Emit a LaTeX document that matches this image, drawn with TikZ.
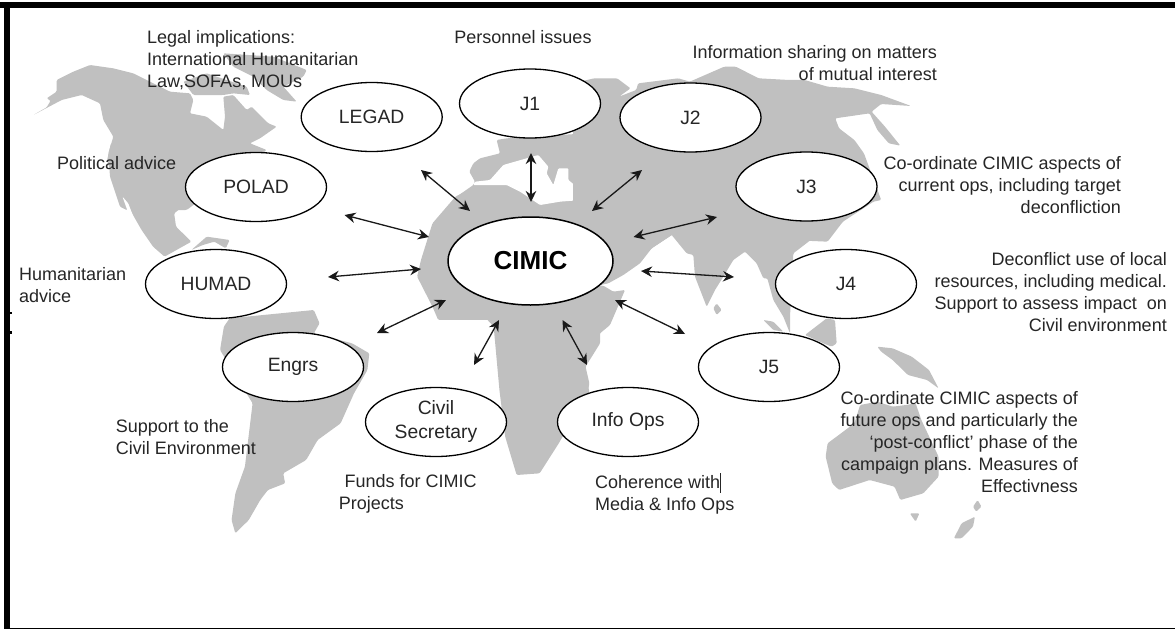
\documentclass[tikz,border=0pt]{standalone}
\usepackage{fontspec}
\setmainfont{Liberation Sans}
\usetikzlibrary{shapes.geometric,arrows.meta}
\definecolor{landgray}{HTML}{C0C0C0}
\definecolor{inkgray}{HTML}{262626}
\tikzset{
  land/.style={fill=landgray,draw=none,rounded corners=1.2pt},
  sea/.style={fill=white,draw=none,rounded corners=1pt},
  staff/.style={ellipse,draw=black,fill=white,line width=1.3pt,minimum width=141pt,minimum height=69pt,inner sep=0pt,align=center,text=inkgray,font=\fontsize{19.3}{24}\selectfont},
  hub/.style={staff,minimum width=165pt,minimum height=88pt,line width=1.5pt,text=black,font=\fontsize{26}{30}\selectfont\bfseries},
  note/.style={inner sep=0pt,text=inkgray,font=\fontsize{18}{22}\selectfont},
  link/.style={{Stealth[length=11pt,width=10.5pt]}-{Stealth[length=11pt,width=10.5pt]},line width=1.3pt,draw=black!90},
  zoomA/.style={x=.3827pt,y=-.33333pt},
  zoomB/.style={xshift=575pt,x=.3827pt,y=-.33333pt},
  zoomC/.style={yshift=-310pt,x=.3827pt,y=-.33333pt},
  zoomD/.style={xshift=575pt,yshift=-310pt,x=.3827pt,y=-.33333pt},
  zoomE/.style={xshift=560pt,yshift=-220pt,x=.33333pt,y=-.33333pt},
  zoomF/.style={xshift=20pt,yshift=-50pt,x=.33333pt,y=-.33333pt},
  zoomG/.style={xshift=440pt,yshift=-130pt,x=.33333pt,y=-.33333pt}
}
\begin{document}
\begin{tikzpicture}[x=1pt,y=-1pt]
\useasboundingbox (0,0) rectangle (1175,629);
\fill[white] (0,0) rectangle (1175,629);
% North America
\begin{scope}[zoomF]
\fill[land] (40,195)--(80,172)--(92,152)--(80,145)--(110,125)--(110,90)--(160,65)--(210,45)--(280,55)--(340,70)--(400,100)--(450,125)--(510,130)--(520,150)--(510,190)--(560,200)--(610,240)--(615,200)--(610,140)--(640,135)--(680,180)--(695,170)--(745,220)--(770,230)--(720,265)--(690,280)--(740,300)--(500,480)--(320,480)--(300,470)--(270,380)--(265,310)--(280,260)--(250,210)--(240,160)--(185,135)--(125,150)--cycle;
\fill[land] (490,95)--(560,70)--(680,110)--(690,135)--(640,130)--(610,135)--(520,135)--cycle;
\fill[land] (610,10)--(760,20)--(860,60)--(850,80)--(790,110)--(830,155)--(790,150)--(740,120)--(700,80)--(640,50)--cycle;
\end{scope}
\begin{scope}[zoomA]
\fill[land] (290,430)--(640,430)--(640,470)--(500,600)--(455,640)--(460,680)--(500,725)--(430,770)--(400,740)--(370,690)--(330,610)--(300,560)--(280,480)--cycle;
\fill[sea] (320,590)--(335,610)--(362,690)--(345,670)--cycle;
\fill[land] (500,750)--(540,710)--(600,720)--(590,745)--(560,725)--(530,735)--cycle;
\fill[land] (1190,590)--(1130,670)--(1100,780)--(1090,830)--(1130,920)--(1145,960)--(1568,960)--(1568,640)--(1500,600)--(1400,600)--(1300,560)--(1240,560)--cycle;
\end{scope}
% Europe, Mediterranean
\begin{scope}[zoomG]
\fill[land] (0,260)--(50,200)--(100,165)--(105,155)--(88,125)--(100,100)--(120,85)--(180,70)--(170,30)--(200,25)--(600,0)--(600,330)--(0,330)--cycle;
\fill[sea] (105,155)--(150,150)--(190,105)--(260,85)--(295,75)--(325,110)--(320,130)--(340,165)--(355,115)--(385,115)--(385,150)--(410,170)--(447,170)--(425,210)--(360,215)--(300,225)--(240,185)--(200,165)--(100,165)--cycle;
\fill[sea] (405,225)--(420,250)--(435,260)--(440,290)--(415,260)--cycle;
\fill[sea] (545,245)--(560,240)--(565,275)--(590,305)--(560,295)--cycle;
\end{scope}
% Eurasia
\begin{scope}[zoomB]
\fill[land] (-5,250)--(50,235)--(110,235)--(145,265)--(115,290)--(160,270)--(165,250)--(270,235)--(300,245)--(390,200)--(420,200)--(480,235)--(560,240)--(600,240)--(660,260)--(730,265)--(800,285)--(878,318)--(800,312)--(775,335)--(810,380)--(850,437)--(820,430)--(790,390)--(770,340)--(680,355)--(690,385)--(730,420)--(755,460)--(800,600)--(780,605)--(700,665)--(660,725)--(253,705)--(200,745)--(-5,745)--cycle;
\end{scope}
\begin{scope}[zoomE]
\fill[land] (335,45)--(380,100)--(400,105)--(405,170)--(440,260)--(465,210)--(490,170)--(520,120)--(555,95)--(590,130)--(610,175)--(622,175)--(640,240)--(670,290)--(690,340)--(690,290)--(700,100)--(830,0)--(335,-20)--cycle;
\fill[land] (335,45)--(275,85)--(240,130)--(190,165)--(145,190)--(120,195)--(-5,150)--(-5,-5)--(335,-5)--cycle;
\fill[land] (130,197)--(160,215)--(195,210)--(165,280)--(150,315)--(120,340)--(85,395)--(75,440)--(80,480)--(88,515)--(80,560)--(-5,560)--(-5,197)--cycle;
\fill[land] (460,265)--(470,250)--(485,270)--(470,285)--cycle;
\fill[land] (610,300)--(640,305)--(670,335)--(640,330)--cycle;
\fill[land] (735,345)--(800,295)--(825,300)--(830,370)--(815,380)--(790,370)--cycle;
\end{scope}
% South America, southern Africa
\begin{scope}[zoomC]
\fill[land] (600,25)--(820,0)--(835,40)--(820,70)--(920,100)--(965,130)--(960,180)--(925,250)--(890,340)--(830,390)--(800,450)--(740,490)--(745,520)--(700,540)--(680,570)--(650,630)--(615,670)--(605,630)--(615,550)--(640,470)--(660,280)--(575,120)--(585,50)--cycle;
\fill[land] (1140,-5)--(1190,10)--(1250,0)--(1290,50)--(1305,240)--(1320,380)--(1350,495)--(1410,490)--(1460,400)--(1535,250)--(1540,220)--(1530,170)--(1568,100)--(1568,-5)--cycle;
\end{scope}
% Oceania
\begin{scope}[zoomD]
\fill[land] (790,110)--(830,115)--(880,140)--(925,180)--(950,235)--(920,210)--(870,195)--(830,150)--(800,125)--cycle;
\fill[land] (660,400)--(730,340)--(745,285)--(790,275)--(830,290)--(865,285)--(890,280)--(905,330)--(950,440)--(950,500)--(910,550)--(850,570)--(835,530)--(770,510)--(690,540)--(672,520)--(655,440)--cycle;
\fill[land] (875,610)--(900,610)--(890,635)--cycle;
\fill[land] (1040,590)--(1052,570)--(1062,590)--(1048,605)--cycle;
\fill[land] (990,685)--(1010,640)--(1045,620)--(1040,650)--(1010,685)--cycle;
\end{scope}
% frame
\fill[black] (0,2) rectangle (1175,8);
\fill[black] (4,2) rectangle (9.5,629);
\fill[black] (4,627.6) rectangle (1175,629);
\fill[black] (9.5,312) rectangle (12,313.5);
\fill[black] (9.5,331) rectangle (11.5,334);
% nodes
\node[hub] (cimic) at (530.5,261) {CIMIC};
\node[staff] (legad) at (371.7,117) {LEGAD};
\node[staff] (j1) at (530,103.5) {J1};
\node[staff] (j2) at (690.5,117.5) {J2};
\node[staff] (j3) at (806.5,186.5) {J3};
\node[staff] (j4) at (846,284) {J4};
\node[staff] (j5) at (769,367) {J5};
\node[staff] (polad) at (256,187) {POLAD};
\node[staff] (humad) at (216,284) {HUMAD};
\node[staff] (engrs) at (293,367) {Engrs};
\node[staff] (civil) at (436,422) {Civil\\Secretary};
\node[staff] (info) at (628,422) {Info Ops};
% connector ends
\coordinate (legadA) at (421,170); \coordinate (legadB) at (470,211);
\coordinate (jaA) at (531,153); \coordinate (jaB) at (531,202);
\coordinate (jbA) at (642,170); \coordinate (jbB) at (592,211);
\coordinate (jcA) at (717,217); \coordinate (jcB) at (633.5,237);
\coordinate (jdA) at (641,271); \coordinate (jdB) at (734,277);
\coordinate (jeA) at (615,300); \coordinate (jeB) at (685,334);
\coordinate (poladA) at (344.5,215); \coordinate (poladB) at (429,237);
\coordinate (humadA) at (328,277); \coordinate (humadB) at (421,269);
\coordinate (engrsA) at (446,300); \coordinate (engrsB) at (377,333);
\coordinate (civilA) at (499,320); \coordinate (civilB) at (474,365);
\coordinate (infoA) at (562.5,320); \coordinate (infoB) at (587,365);
\draw[link] (legadA) -- (legadB);
\draw[link,line width=2pt] (jaA) -- (jaB);
\draw[link] (jbA) -- (jbB);
\draw[link] (jcA) -- (jcB);
\draw[link] (jdA) -- (jdB);
\draw[link] (jeA) -- (jeB);
\draw[link] (poladA) -- (poladB);
\draw[link] (humadA) -- (humadB);
\draw[link] (engrsA) -- (engrsB);
\draw[link] (civilA) -- (civilB);
\draw[link] (infoA) -- (infoB);
% notes
\node[note,anchor=west,align=left] (nlegal) at (147,60) {Legal implications:\\International Humanitarian\\Law,SOFAs, MOUs};
\node[note] (npers) at (523,37) {Personnel issues};
\node[note,anchor=east,align=right] (ninfo) at (937,63) {Information sharing on matters\\of mutual interest};
\node[note,anchor=west] (npol) at (57,163) {Political advice};
\node[note,anchor=west,align=left] (nhum) at (19,285.5) {Humanitarian\\advice};
\node[note,anchor=east,align=right] (nj3) at (1121,185) {Co-ordinate CIMIC aspects of\\current ops, including target\\deconfliction};
\node[note,anchor=east,align=right] (nj4) at (1167,292.5) {Deconflict use of local\\resources, including medical.\\Support to assess impact\ \ on\\Civil environment};
\node[note,anchor=west,align=left] (nsup) at (115.6,437) {Support to the\\Civil Environment};
\node[note,anchor=west,align=left] (nfun) at (338.7,494) {\hspace*{5.7pt}Funds for CIMIC\\Projects};
\node[note,anchor=west,align=left] (ncoh) at (595,493.5) {Coherence with\rule[-4pt]{.9pt}{20pt}\\Media \& Info Ops};
\node[note,anchor=east,align=right] (nj5) at (1078,442) {Co-ordinate CIMIC aspects of\\future ops and particularly the\\‘post-conflict’ phase of the\\campaign plans. Measures of\\Effectivness};
\end{tikzpicture}
\end{document}
